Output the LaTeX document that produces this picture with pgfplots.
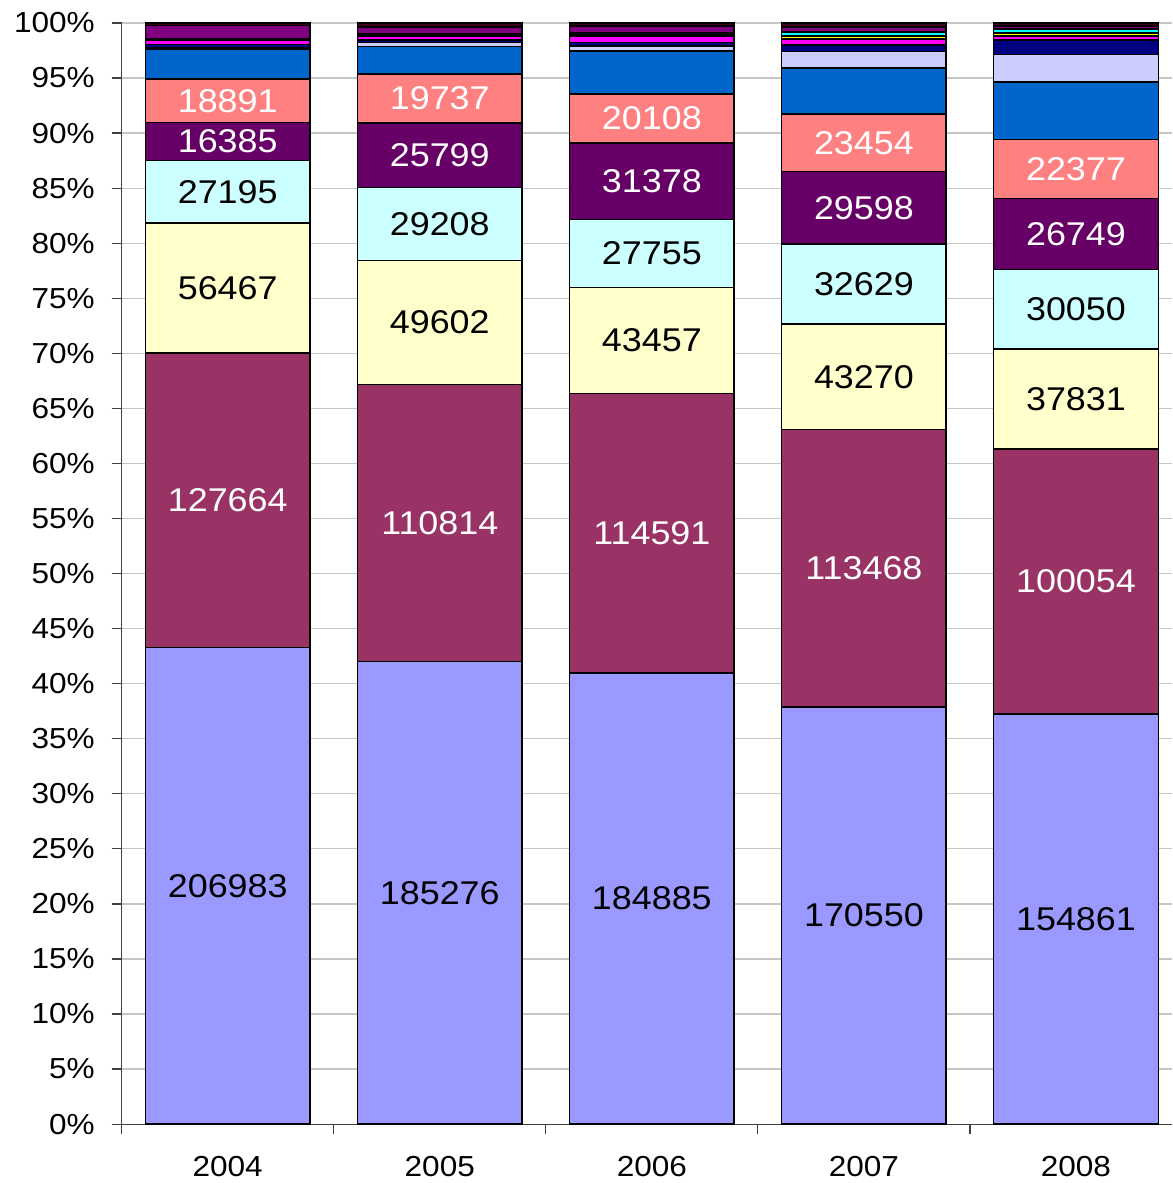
\documentclass[border=0pt]{standalone}
\usepackage{pgfplots}
\pgfplotsset{compat=1.18}
\usepackage{pgfplotstable}
\usepackage{fontspec}
\setmainfont{Liberation Sans}[FakeStretch=1.09]
\definecolor{c1}{HTML}{9999FF}
\definecolor{c2}{HTML}{993366}
\definecolor{c3}{HTML}{FFFFCC}
\definecolor{c4}{HTML}{CCFFFF}
\definecolor{c5}{HTML}{660066}
\definecolor{c6}{HTML}{FF8080}
\definecolor{c7}{HTML}{0066CC}
\definecolor{c8}{HTML}{CCCCFF}
\definecolor{c9}{HTML}{000080}
\definecolor{c10}{HTML}{FF00FF}
\definecolor{c11}{HTML}{FFFF00}
\definecolor{c12}{HTML}{00FFFF}
\definecolor{c13}{HTML}{800080}
\definecolor{c14}{HTML}{400020}
\pgfplotstableread{
x s1 s2 s3 s4 s5 s6 s7 s8 s9 s10 s11 s12 s13 s14 tot
0 206983 127664 56467 27195 16385 18891 13000 800 1200 1900 400 400 5500 1215 478000
1 185276 110814 49602 29208 25799 19737 10900 1700 900 1700 500 500 2600 1564 440800
2 184885 114591 43457 27755 31378 20108 17700 2000 1400 2400 700 900 2800 1226 451300
3 170550 113468 43270 32629 29598 23454 18800 6900 2700 2400 1100 1800 2000 1631 450300
4 154861 100054 37831 30050 26749 22377 21600 10400 5500 1600 1000 1500 1200 1178 415900
}\data
\pgfplotsset{
  common/.style={
    width=526.5pt, height=552pt, scale only axis,
    xmin=-0.5, xmax=4.453, ymin=0, ymax=100,
  },
}
\begin{document}
\begin{tikzpicture}
\begin{axis}[common,
  ybar stacked, bar width=0.776,
  axis x line*=bottom, axis y line*=left,
  axis line style={-, black!75, line width=0.6pt},
  ytick={0,5,...,100},
  yticklabels={0\%,5\%,10\%,15\%,20\%,25\%,30\%,35\%,40\%,45\%,50\%,55\%,60\%,65\%,70\%,75\%,80\%,85\%,90\%,95\%,100\%},
  ymajorgrids, grid style={gray!45, line width=0.6pt},
  xtick={0,1,2,3,4},
  xticklabels={2004,2005,2006,2007,2008},
  major x tick style={draw=none},
  minor xtick={-0.5,0.5,1.5,2.5,3.5},
  minor tick length=5pt, major tick length=5pt,
  tick align=outside,
  tick style={black!75, line width=0.6pt},
  ticklabel style={font=\fontsize{14.5}{17}\selectfont},
  yticklabel style={anchor=east, xshift=-5pt},
  xticklabel style={anchor=north, yshift=-7.5pt},
  every axis plot/.append style={draw=black, line width=0.75pt},
]
\addplot[fill=c1] table[x=x, y expr=\thisrow{s1}/\thisrow{tot}*100] {\data};
\addplot[fill=c2] table[x=x, y expr=\thisrow{s2}/\thisrow{tot}*100] {\data};
\addplot[fill=c3] table[x=x, y expr=\thisrow{s3}/\thisrow{tot}*100] {\data};
\addplot[fill=c4] table[x=x, y expr=\thisrow{s4}/\thisrow{tot}*100] {\data};
\addplot[fill=c5] table[x=x, y expr=\thisrow{s5}/\thisrow{tot}*100] {\data};
\addplot[fill=c6] table[x=x, y expr=\thisrow{s6}/\thisrow{tot}*100] {\data};
\addplot[fill=c7] table[x=x, y expr=\thisrow{s7}/\thisrow{tot}*100] {\data};
\addplot[fill=c8] table[x=x, y expr=\thisrow{s8}/\thisrow{tot}*100] {\data};
\addplot[fill=c9] table[x=x, y expr=\thisrow{s9}/\thisrow{tot}*100] {\data};
\addplot[fill=c10] table[x=x, y expr=\thisrow{s10}/\thisrow{tot}*100] {\data};
\addplot[fill=c11] table[x=x, y expr=\thisrow{s11}/\thisrow{tot}*100] {\data};
\addplot[fill=c12] table[x=x, y expr=\thisrow{s12}/\thisrow{tot}*100] {\data};
\addplot[fill=c13] table[x=x, y expr=\thisrow{s13}/\thisrow{tot}*100] {\data};
\addplot[fill=c14] table[x=x, y expr=\thisrow{s14}/\thisrow{tot}*100] {\data};
\end{axis}
\begin{axis}[common, hide axis,
  nodes near coords, point meta=explicit symbolic,
  every node near coord/.append style={anchor=center, font=\fontsize{16.5}{20}\selectfont},
]
\addplot[draw=none, mark=none, nodes near coords style={text=black}] table[x=x, y expr=(\thisrow{s1}/2)/\thisrow{tot}*100, meta=s1] {\data};
\addplot[draw=none, mark=none, nodes near coords style={text=white}] table[x=x, y expr=(\thisrow{s1}+\thisrow{s2}/2)/\thisrow{tot}*100, meta=s2] {\data};
\addplot[draw=none, mark=none, nodes near coords style={text=black}] table[x=x, y expr=(\thisrow{s1}+\thisrow{s2}+\thisrow{s3}/2)/\thisrow{tot}*100, meta=s3] {\data};
\addplot[draw=none, mark=none, nodes near coords style={text=black}] table[x=x, y expr=(\thisrow{s1}+\thisrow{s2}+\thisrow{s3}+\thisrow{s4}/2)/\thisrow{tot}*100, meta=s4] {\data};
\addplot[draw=none, mark=none, nodes near coords style={text=white}] table[x=x, y expr=(\thisrow{s1}+\thisrow{s2}+\thisrow{s3}+\thisrow{s4}+\thisrow{s5}/2)/\thisrow{tot}*100, meta=s5] {\data};
\addplot[draw=none, mark=none, nodes near coords style={text=white}] table[x=x, y expr=(\thisrow{s1}+\thisrow{s2}+\thisrow{s3}+\thisrow{s4}+\thisrow{s5}+\thisrow{s6}/2)/\thisrow{tot}*100, meta=s6] {\data};
\end{axis}
\pgfresetboundingbox
\path[use as bounding box] ([shift={(-61pt,-29.5pt)}]current axis.south west) rectangle ([shift={(0pt,11.5pt)}]current axis.north east);
\end{tikzpicture}
\end{document}
